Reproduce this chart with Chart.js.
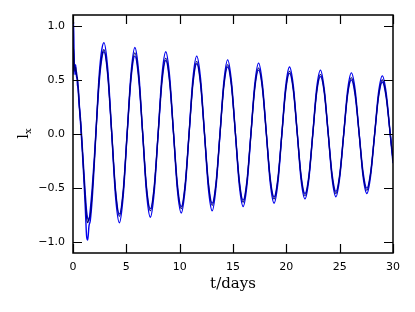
<!DOCTYPE html>
<html lang="en">

<head>
  <meta charset="UTF-8" />
  <title>l_x vs t</title>
  <script src="https://cdn.jsdelivr.net/npm/chart.js"></script>
  <style>
    html, body {
      margin: 0;
      padding: 0;
      background: white;
    }

    .wrap {
      width: 415px;
      height: 312px;
    }
  </style>
</head>

<body>
  <div class="wrap">
    <canvas id="lxChart" width="415" height="312"></canvas>
  </div>

  <script>
    // time axis (days)
    const days = [
      0.00, 0.05, 0.10, 0.18, 0.25, 0.33, 0.42, 0.50, 0.60, 0.72, 0.85, 1.00, 1.15, 1.28, 1.38, 1.50, 1.62, 1.80, 2.00, 2.20, 2.45, 2.70,
      2.90, 3.26, 3.63, 3.99, 4.35, 4.71, 5.08, 5.44,
      5.80, 6.16, 6.53, 6.89, 7.25, 7.61, 7.98, 8.34,
      8.70, 9.06, 9.43, 9.79, 10.15, 10.51, 10.88, 11.24,
      11.60, 11.96, 12.33, 12.69, 13.05, 13.41, 13.78, 14.14,
      14.50, 14.86, 15.23, 15.59, 15.95, 16.31, 16.68, 17.04,
      17.40, 17.76, 18.13, 18.49, 18.85, 19.21, 19.58, 19.94,
      20.30, 20.66, 21.03, 21.39, 21.75, 22.11, 22.48, 22.84,
      23.20, 23.56, 23.93, 24.29, 24.65, 25.01, 25.38, 25.74,
      26.10, 26.46, 26.83, 27.19, 27.55, 27.91, 28.28, 28.64,
      29.00, 29.36, 29.73, 30.00
    ];

    // mean l_x (dark line)
    const lxMean = [
      0.58, 0.80, 0.70, 0.58, 0.62, 0.55, 0.50, 0.40, 0.25, 0.10, -0.10, -0.35, -0.60, -0.78, -0.82, -0.78, -0.75, -0.55, -0.25, 0.10, 0.50, 0.72,
      0.78, 0.55, 0.01, -0.53, -0.76, -0.53, 0.01, 0.53,
      0.75, 0.53, 0.01, -0.50, -0.71, -0.50, 0.00, 0.50,
      0.70, 0.49, 0.00, -0.49, -0.69, -0.48, 0.00, 0.47,
      0.67, 0.47, 0.00, -0.46, -0.66, -0.46, 0.00, 0.45,
      0.64, 0.45, 0.00, -0.44, -0.63, -0.44, 0.00, 0.43,
      0.61, 0.43, 0.00, -0.42, -0.60, -0.42, 0.00, 0.41,
      0.58, 0.41, 0.00, -0.40, -0.57, -0.40, 0.00, 0.39,
      0.55, 0.39, 0.00, -0.39, -0.55, -0.38, 0.00, 0.37,
      0.52, 0.37, 0.00, -0.37, -0.52, -0.36, 0.00, 0.35,
      0.50, 0.35, 0.01, -0.25
    ];

    // outer bound (blue)
    const lxOuter = [
      0.60, 1.04, 0.75, 0.55, 0.64, 0.52, 0.52, 0.38, 0.24, 0.08, -0.12, -0.38, -0.68, -0.95, -0.98, -0.85, -0.80, -0.60, -0.27, 0.10, 0.54, 0.78,
      0.845, 0.60, 0.01, -0.58, -0.82, -0.57, 0.01, 0.56,
      0.80, 0.57, 0.01, -0.54, -0.77, -0.54, 0.00, 0.54,
      0.76, 0.53, 0.00, -0.52, -0.73, -0.51, 0.00, 0.51,
      0.72, 0.51, 0.00, -0.50, -0.71, -0.49, 0.00, 0.48,
      0.685, 0.48, 0.00, -0.47, -0.67, -0.47, 0.00, 0.46,
      0.655, 0.46, 0.00, -0.45, -0.64, -0.45, 0.00, 0.44,
      0.62, 0.44, 0.00, -0.43, -0.60, -0.42, 0.00, 0.42,
      0.59, 0.41, 0.00, -0.41, -0.58, -0.40, 0.00, 0.40,
      0.565, 0.40, 0.00, -0.39, -0.55, -0.38, 0.00, 0.38,
      0.537, 0.38, 0.01, -0.27
    ];

    // inner bound (blue)
    const lxInner = [
      0.55, 0.65, 0.62, 0.60, 0.57, 0.58, 0.45, 0.42, 0.26, 0.12, -0.08, -0.32, -0.55, -0.72, -0.78, -0.80, -0.70, -0.50, -0.22, 0.10, 0.47, 0.70,
      0.76, 0.54, 0.01, -0.52, -0.74, -0.52, 0.01, 0.51,
      0.72, 0.51, 0.01, -0.49, -0.69, -0.49, 0.00, 0.48,
      0.68, 0.48, 0.00, -0.47, -0.67, -0.47, 0.00, 0.46,
      0.65, 0.46, 0.00, -0.45, -0.64, -0.45, 0.00, 0.44,
      0.62, 0.44, 0.00, -0.43, -0.61, -0.43, 0.00, 0.42,
      0.59, 0.42, 0.00, -0.41, -0.58, -0.41, 0.00, 0.40,
      0.56, 0.40, 0.00, -0.39, -0.55, -0.39, 0.00, 0.38,
      0.53, 0.38, 0.00, -0.37, -0.53, -0.37, 0.00, 0.36,
      0.50, 0.35, 0.00, -0.35, -0.50, -0.35, 0.00, 0.34,
      0.48, 0.34, 0.01, -0.23
    ];

    const xTicks = [0, 5, 10, 15, 20, 25, 30];
    const yTicks = [-1.0, -0.5, 0.0, 0.5, 1.0];

    const toPoints = ys => days.map((t, i) => ({ x: t, y: ys[i] }));
    const fmtY = v => v.toFixed(1).replace('-', '\u2212');

    // frame on all four sides with inward ticks, plus the axis titles
    const framePlugin = {
      id: 'frame',
      afterDraw(chart) {
        const { ctx, chartArea: a, scales } = chart;
        const len = 9;
        ctx.save();
        ctx.strokeStyle = '#000';
        ctx.lineWidth = 1.2;
        ctx.beginPath();
        xTicks.forEach(v => {
          const px = Math.round(scales.x.getPixelForValue(v)) + 0.5;
          ctx.moveTo(px, a.bottom); ctx.lineTo(px, a.bottom - len);
          ctx.moveTo(px, a.top); ctx.lineTo(px, a.top + len);
        });
        yTicks.forEach(v => {
          const py = Math.round(scales.y.getPixelForValue(v)) + 0.5;
          ctx.moveTo(a.left, py); ctx.lineTo(a.left + len, py);
          ctx.moveTo(a.right, py); ctx.lineTo(a.right - len, py);
        });
        ctx.stroke();
        ctx.lineWidth = 1.5;
        ctx.strokeRect(a.left, a.top, a.right - a.left, a.bottom - a.top);

        // x title
        ctx.fillStyle = '#000';
        ctx.font = '15px "DejaVu Serif"';
        ctx.textAlign = 'center';
        ctx.textBaseline = 'middle';
        ctx.fillText('t/days', (a.left + a.right) / 2, 284);

        // y title: l with subscript x, rotated
        ctx.translate(24, (a.top + a.bottom) / 2);
        ctx.rotate(-Math.PI / 2);
        ctx.font = '15px "DejaVu Serif"';
        ctx.textAlign = 'right';
        ctx.textBaseline = 'alphabetic';
        ctx.fillText('l', 0, 4);
        ctx.font = '10px "DejaVu Serif"';
        ctx.textAlign = 'left';
        ctx.fillText('x', 0, 7);
        ctx.restore();
      }
    };

    const ctx = document.getElementById('lxChart').getContext('2d');
    new Chart(ctx, {
      type: 'line',
      data: {
        datasets: [
          {
            label: 'mean',
            data: toPoints(lxMean),
            borderColor: '#000070',
            borderWidth: 1.1,
            pointRadius: 0,
            cubicInterpolationMode: 'monotone',
            fill: false
          },
          {
            label: 'outer',
            data: toPoints(lxOuter),
            borderColor: '#0000ee',
            borderWidth: 1.4,
            pointRadius: 0,
            cubicInterpolationMode: 'monotone',
            fill: false
          },
          {
            label: 'inner',
            data: toPoints(lxInner),
            borderColor: '#0000ee',
            borderWidth: 1.4,
            pointRadius: 0,
            cubicInterpolationMode: 'monotone',
            fill: false
          }
        ]
      },
      options: {
        responsive: false,
        animation: false,
        events: [],
        layout: {
          padding: { top: 15, right: 22, left: 0, bottom: 0 }
        },
        plugins: {
          legend: { display: false },
          tooltip: { enabled: false }
        },
        scales: {
          x: {
            type: 'linear',
            min: 0,
            max: 30,
            afterBuildTicks: s => { s.ticks = xTicks.map(v => ({ value: v })); },
            afterFit: s => { s.height = 59; },
            grid: { drawOnChartArea: false, drawTicks: false },
            border: { display: false },
            ticks: {
              padding: 8,
              color: '#000',
              font: { family: 'DejaVu Sans', size: 11 },
              maxRotation: 0,
              callback: v => String(v)
            }
          },
          y: {
            type: 'linear',
            min: -1.1,
            max: 1.1,
            afterBuildTicks: s => { s.ticks = yTicks.map(v => ({ value: v })); },
            afterFit: s => { s.width = 73; },
            grid: { drawOnChartArea: false, drawTicks: false },
            border: { display: false },
            ticks: {
              padding: 8,
              color: '#000',
              font: { family: 'DejaVu Sans', size: 11 },
              callback: v => fmtY(v)
            }
          }
        }
      },
      plugins: [framePlugin]
    });
  </script>
</body>

</html>
